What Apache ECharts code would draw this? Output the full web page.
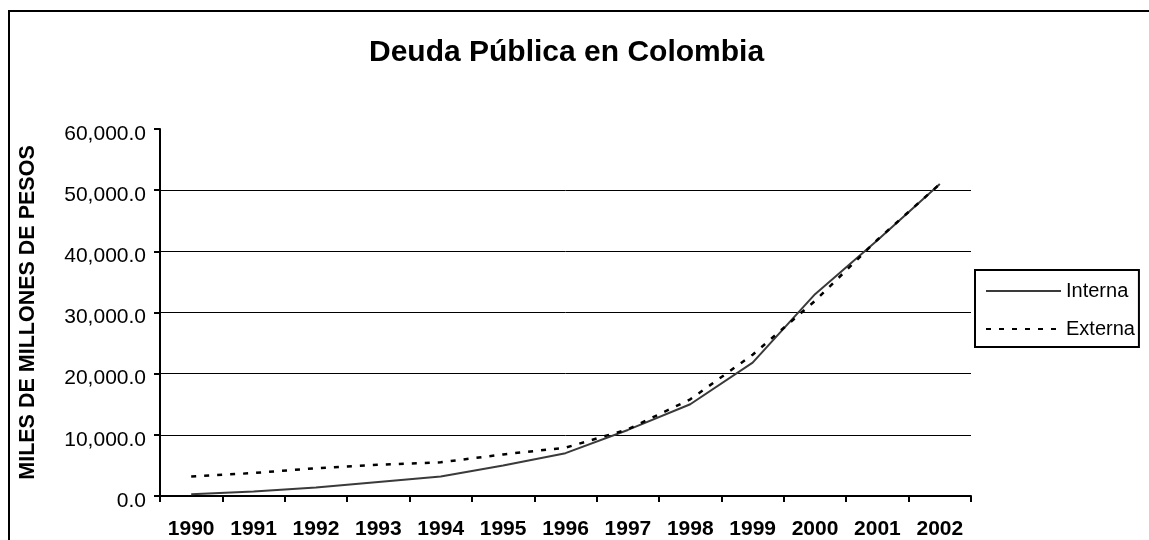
<!DOCTYPE html>
<html>
<head>
<meta charset="utf-8">
<script src="https://cdn.jsdelivr.net/npm/echarts@6/dist/echarts.min.js"></script>
<style>
  html, body { margin: 0; padding: 0; background: #fff; }
  #chart { width: 1149px; height: 540px; }
</style>
</head>
<body>
<div id="chart"></div>
<script>
// years on the x axis
const years = ['1990', '1991', '1992', '1993', '1994', '1995', '1996',
  '1997', '1998', '1999', '2000', '2001', '2002']
// miles de millones de pesos
const interna = [300, 750, 1400, 2300, 3200, 5000, 7000, 10800, 15000, 21800, 33000, 41800, 51000]
const externa = [3200, 3750, 4550, 5100, 5500, 6800, 7900, 10900, 15800, 23100, 31900, 41900, 51000]

const FONT = '"Liberation Sans", Arial, sans-serif'

var myChart = echarts.init(document.getElementById('chart'), null, { renderer: 'canvas' })

const option = {
  animation: false,
  backgroundColor: '#fff',
  textStyle: { fontFamily: FONT, color: '#000' },
  graphic: [{
    type: 'rect',
    shape: { x: 9, y: 11, width: 1200, height: 600 },
    style: { fill: 'none', stroke: '#000', lineWidth: 2 },
    silent: true
  }],
  title: {
    text: 'Deuda Pública en Colombia',
    left: 369,
    top: 38,
    padding: 0,
    textStyle: { fontFamily: FONT, fontSize: 30, fontWeight: 'bold', color: '#000' }
  },
  legend: {
    orient: 'vertical',
    left: 975,
    top: 270,
    padding: [11, 4, 8, 10],
    itemWidth: 75,
    itemHeight: 14,
    itemGap: 18,
    borderColor: '#000',
    borderWidth: 2,
    itemStyle: { opacity: 0 },
    textStyle: { fontFamily: FONT, fontSize: 20, color: '#000' },
    data: ['Interna', 'Externa']
  },
  grid: { left: 160, right: 178, top: 129, bottom: 43, containLabel: false },
  xAxis: {
    type: 'category',
    data: years,
    boundaryGap: true,
    axisLine: { lineStyle: { color: '#000', width: 2 } },
    axisTick: { show: true, alignWithLabel: false, length: 6, lineStyle: { color: '#000', width: 2 } },
    axisLabel: { interval: 0, margin: 23, fontFamily: FONT, fontSize: 21, fontWeight: 'bold', color: '#000' },
    splitLine: { show: false }
  },
  yAxis: {
    type: 'value',
    min: 0,
    max: 60000,
    interval: 10000,
    name: 'MILES DE MILLONES DE PESOS',
    nameLocation: 'middle',
    nameGap: 121,
    nameRotate: 90,
    nameTextStyle: { fontFamily: FONT, fontSize: 21.5, fontWeight: 'bold', color: '#000' },
    axisLine: { show: true, lineStyle: { color: '#000', width: 2 } },
    axisTick: { show: true, length: 6, lineStyle: { color: '#000', width: 2 } },
    axisLabel: {
      margin: 14,
      verticalAlign: 'top',
      lineHeight: 10,
      fontFamily: FONT,
      fontSize: 21,
      color: '#000',
      formatter: v => v.toLocaleString('en-US', { minimumFractionDigits: 1, maximumFractionDigits: 1 })
    },
    splitLine: { show: true, showMinLine: false, showMaxLine: false, lineStyle: { color: '#000', width: 1 } }
  },
  series: [
    {
      name: 'Interna',
      type: 'line',
      data: interna,
      symbol: 'none',
      itemStyle: { color: '#3a3a3a' },
      lineStyle: { color: '#3a3a3a', width: 2, type: 'solid' }
    },
    {
      name: 'Externa',
      type: 'line',
      data: externa,
      symbol: 'none',
      itemStyle: { color: '#000' },
      lineStyle: { color: '#000', width: 2.5, type: [5, 8] }
    }
  ]
}

myChart.setOption(option)
</script>
</body>
</html>
